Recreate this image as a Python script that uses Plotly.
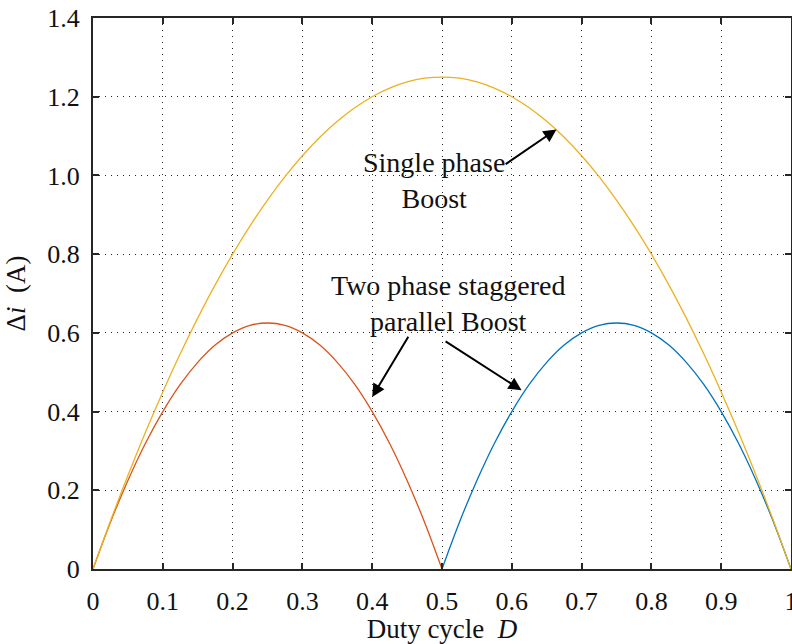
import plotly.graph_objects as go

# Duty cycle samples
D_full = [0, 0.025, 0.05, 0.075, 0.1, 0.125, 0.15, 0.175, 0.2, 0.225, 0.25, 0.275, 0.3,
          0.325, 0.35, 0.375, 0.4, 0.425, 0.45, 0.475, 0.5, 0.525, 0.55, 0.575, 0.6,
          0.625, 0.65, 0.675, 0.7, 0.725, 0.75, 0.775, 0.8, 0.825, 0.85, 0.875, 0.9,
          0.925, 0.95, 0.975, 1.0]
single_boost = [0, 0.122, 0.2375, 0.347, 0.45, 0.547, 0.6375, 0.722, 0.8, 0.872, 0.9375,
                0.997, 1.05, 1.097, 1.1375, 1.172, 1.2, 1.222, 1.2375, 1.247, 1.25,
                1.247, 1.2375, 1.222, 1.2, 1.172, 1.1375, 1.097, 1.05, 0.997, 0.9375,
                0.872, 0.8, 0.722, 0.6375, 0.547, 0.45, 0.347, 0.2375, 0.122, 0]

D_low = [0, 0.025, 0.05, 0.075, 0.1, 0.125, 0.15, 0.175, 0.2, 0.225, 0.25, 0.275, 0.3,
         0.325, 0.35, 0.375, 0.4, 0.425, 0.45, 0.475, 0.5]
two_phase_low = [0, 0.119, 0.225, 0.319, 0.4, 0.469, 0.525, 0.569, 0.6, 0.619, 0.625,
                 0.619, 0.6, 0.569, 0.525, 0.469, 0.4, 0.319, 0.225, 0.119, 0]

D_high = [0.5, 0.525, 0.55, 0.575, 0.6, 0.625, 0.65, 0.675, 0.7, 0.725, 0.75, 0.775, 0.8,
          0.825, 0.85, 0.875, 0.9, 0.925, 0.95, 0.975, 1.0]
two_phase_high = [0, 0.119, 0.225, 0.319, 0.4, 0.469, 0.525, 0.569, 0.6, 0.619, 0.625,
                  0.619, 0.6, 0.569, 0.525, 0.469, 0.4, 0.319, 0.225, 0.119, 0]

x_ticks = [0, 0.1, 0.2, 0.3, 0.4, 0.5, 0.6, 0.7, 0.8, 0.9, 1.0]
x_tick_text = ["0", "0.1", "0.2", "0.3", "0.4", "0.5", "0.6", "0.7", "0.8", "0.9", "1"]
y_ticks = [0, 0.2, 0.4, 0.6, 0.8, 1.0, 1.2, 1.4]
y_tick_text = ["0", "0.2", "0.4", "0.6", "0.8", "1.0", "1.2", "1.4"]

FONT = "Liberation Serif"
AX = "#262626"

fig = go.Figure()
fig.add_trace(go.Scatter(x=D_low, y=two_phase_low, mode="lines", line_shape="spline",
                         line=dict(color="#D95319", width=1.3), showlegend=False))
fig.add_trace(go.Scatter(x=D_high, y=two_phase_high, mode="lines", line_shape="spline",
                         line=dict(color="#0072BD", width=1.3), showlegend=False))
fig.add_trace(go.Scatter(x=D_full, y=single_boost, mode="lines", line_shape="spline",
                         line=dict(color="#EDB120", width=1.3), showlegend=False))

axis_common = dict(
    showline=True, mirror="ticks", linecolor=AX, linewidth=2,
    ticks="inside", ticklen=6, tickwidth=2, tickcolor=AX,
    showgrid=True, gridcolor=AX, gridwidth=1.2, griddash="1px,5px",
    zeroline=False, tickfont=dict(family=FONT, size=26, color="#111"),
    ticklabeloverflow="allow", automargin=False,
)

fig.update_xaxes(range=[0, 1], tickvals=x_ticks, ticktext=x_tick_text,
                 ticklabelstandoff=8,
                 title=dict(text="Duty cycle  <i>D</i>", font=dict(family=FONT, size=27, color="#111"),
                            standoff=0),
                 **axis_common)
fig.update_yaxes(range=[0, 1.4], tickvals=y_ticks, ticktext=y_tick_text,
                 ticklabelstandoff=6,
                 title=dict(text="Δ<i>i</i>  (A)", font=dict(family=FONT, size=27, color="#111"),
                            standoff=14),
                 **axis_common)

ann_font = dict(family=FONT, size=28, color="#111")
annotations = [
    dict(x=0.489, y=0.988, xref="x", yref="y", text="Single phase<br>Boost",
         showarrow=False, font=ann_font, align="center"),
    dict(x=0.508, y=0.675, xref="x", yref="y", text="Two phase staggered<br>parallel Boost",
         showarrow=False, font=ann_font, align="center"),
    dict(x=0.664, y=1.117, ax=0.589, ay=1.026, xref="x", yref="y", axref="x", ayref="y",
         text="", showarrow=True, arrowhead=2, arrowsize=1.3, arrowwidth=2, arrowcolor="#000"),
    dict(x=0.400, y=0.437, ax=0.453, ay=0.594, xref="x", yref="y", axref="x", ayref="y",
         text="", showarrow=True, arrowhead=2, arrowsize=1.3, arrowwidth=2, arrowcolor="#000"),
    dict(x=0.614, y=0.454, ax=0.503, ay=0.581, xref="x", yref="y", axref="x", ayref="y",
         text="", showarrow=True, arrowhead=2, arrowsize=1.3, arrowwidth=2, arrowcolor="#000"),
]

fig.update_layout(
    width=792, height=644,
    margin=dict(l=93, r=1, t=18, b=75),
    paper_bgcolor="white", plot_bgcolor="white",
    annotations=annotations,
    font=dict(family=FONT),
)

fig.write_html("out.html")
